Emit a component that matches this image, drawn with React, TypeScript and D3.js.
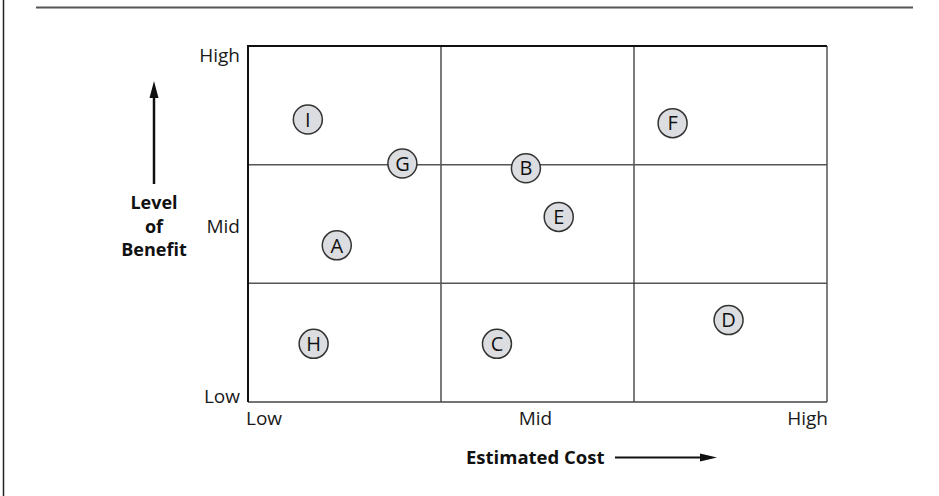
import React, { useEffect, useRef } from 'react';
import * as d3 from 'd3';

// Projects placed on the cost / benefit grid (0 = Low, 1.5 = Mid, 3 = High)
const projectLabels = ['I', 'G', 'B', 'E', 'F', 'A', 'H', 'C', 'D'];
const costValues = [0.31, 0.8, 1.44, 1.61, 2.2, 0.46, 0.34, 1.29, 2.49];
const benefitValues = [2.38, 2.01, 1.97, 1.56, 2.35, 1.32, 0.49, 0.49, 0.69];

const levelTicks = ['Low', 'Mid', 'High'];
const levelTickValues = [0, 1.5, 3];
const gridValues = [1, 2];

const FONT = '"Open Sans", "Noto Sans", sans-serif';

export const CostBenefitGrid: React.FC = () => {
  const svgRef = useRef<SVGSVGElement>(null);

  useEffect(() => {
    if (!svgRef.current) return;

    d3.select(svgRef.current).selectAll('*').remove();

    const width = 939;
    const height = 496;
    const margin = { top: 46, right: 112, bottom: 94, left: 248 };

    const svg = d3.select(svgRef.current);

    const xScale = d3
      .scaleLinear()
      .domain([0, 3])
      .range([margin.left, width - margin.right]);

    const yScale = d3
      .scaleLinear()
      .domain([0, 3])
      .range([height - margin.bottom, margin.top]);

    // Outer frame (top rule and left rule)
    svg
      .append('line')
      .attr('x1', 36)
      .attr('x2', 913)
      .attr('y1', 7.5)
      .attr('y2', 7.5)
      .attr('stroke', '#555')
      .attr('stroke-width', 2);

    svg
      .append('line')
      .attr('x1', 3.5)
      .attr('x2', 3.5)
      .attr('y1', 0)
      .attr('y2', height)
      .attr('stroke', '#222')
      .attr('stroke-width', 1.5);

    // Inner grid lines
    gridValues.forEach((v) => {
      svg
        .append('line')
        .attr('x1', xScale(v))
        .attr('x2', xScale(v))
        .attr('y1', yScale(0))
        .attr('y2', yScale(3))
        .attr('stroke', '#333')
        .attr('stroke-width', 1.3);
      svg
        .append('line')
        .attr('x1', xScale(0))
        .attr('x2', xScale(3))
        .attr('y1', yScale(v))
        .attr('y2', yScale(v))
        .attr('stroke', '#555')
        .attr('stroke-width', 1.5);
    });

    // Plot border: right and bottom lighter, top and left darker
    svg
      .append('line')
      .attr('x1', xScale(3))
      .attr('x2', xScale(3))
      .attr('y1', yScale(0))
      .attr('y2', yScale(3))
      .attr('stroke', '#555')
      .attr('stroke-width', 1.5);
    svg
      .append('line')
      .attr('x1', xScale(0))
      .attr('x2', xScale(3))
      .attr('y1', yScale(0))
      .attr('y2', yScale(0))
      .attr('stroke', '#444')
      .attr('stroke-width', 1.5);
    svg
      .append('path')
      .attr('d', `M${xScale(0)},${yScale(0)}V${yScale(3)}H${xScale(3)}`)
      .attr('fill', 'none')
      .attr('stroke', '#111')
      .attr('stroke-width', 2);

    // Y level labels
    svg
      .selectAll('.y-label')
      .data(levelTicks)
      .enter()
      .append('text')
      .attr('x', xScale(0) - 8)
      .attr('y', (d, i) => yScale(levelTickValues[i]))
      .attr('dy', (d, i) => (i === 0 ? '0.05em' : i === 1 ? '0.45em' : '0.85em'))
      .attr('text-anchor', 'end')
      .attr('fill', '#1a1a1a')
      .attr('font-family', FONT)
      .attr('font-size', '19px')
      .text((d) => d);

    // X level labels
    svg
      .selectAll('.x-label')
      .data(levelTicks)
      .enter()
      .append('text')
      .attr('x', (d, i) => xScale(levelTickValues[i]) + (i === 0 ? -2 : i === 2 ? 1 : -2))
      .attr('y', yScale(0) + 23)
      .attr('text-anchor', (d, i) => (i === 0 ? 'start' : i === 1 ? 'middle' : 'end'))
      .attr('fill', '#1a1a1a')
      .attr('font-family', FONT)
      .attr('font-size', '19px')
      .text((d) => d);

    // Axis titles with arrows
    const benefit = svg
      .append('text')
      .attr('x', 154)
      .attr('y', 209)
      .attr('text-anchor', 'middle')
      .attr('fill', '#111')
      .attr('font-family', FONT)
      .attr('font-size', '18px')
      .attr('font-weight', 700);
    ['Level', 'of', 'Benefit'].forEach((w, i) => {
      benefit
        .append('tspan')
        .attr('x', 154)
        .attr('dy', i === 0 ? 0 : 23.5)
        .text(w);
    });

    svg
      .append('line')
      .attr('x1', 154)
      .attr('x2', 154)
      .attr('y1', 184)
      .attr('y2', 96)
      .attr('stroke', '#111')
      .attr('stroke-width', 2.5);
    svg
      .append('path')
      .attr('d', 'M154,81L149.5,98H158.5Z')
      .attr('fill', '#111');

    svg
      .append('text')
      .attr('x', 466)
      .attr('y', 464)
      .attr('fill', '#111')
      .attr('font-family', FONT)
      .attr('font-size', '18.5px')
      .attr('font-weight', 700)
      .text('Estimated Cost');

    svg
      .append('line')
      .attr('x1', 615)
      .attr('x2', 702)
      .attr('y1', 457.5)
      .attr('y2', 457.5)
      .attr('stroke', '#111')
      .attr('stroke-width', 2);
    svg
      .append('path')
      .attr('d', 'M717,457.5L700,453.5V461.5Z')
      .attr('fill', '#111');

    // Project markers
    const points = projectLabels.map((label, i) => ({
      label,
      cost: costValues[i],
      benefit: benefitValues[i],
    }));

    const markers = svg
      .selectAll('.marker')
      .data(points)
      .enter()
      .append('g')
      .attr('class', 'marker')
      .attr('transform', (d) => `translate(${xScale(d.cost)},${yScale(d.benefit)})`);

    markers
      .append('circle')
      .attr('r', 14.5)
      .attr('fill', '#dcdde0')
      .attr('stroke', '#333')
      .attr('stroke-width', 1.5);

    markers
      .append('text')
      .attr('text-anchor', 'middle')
      .attr('dy', '0.36em')
      .attr('fill', '#111')
      .attr('font-family', FONT)
      .attr('font-size', '20px')
      .text((d) => d.label);
  }, []);

  return (
    <svg
      ref={svgRef}
      width={939}
      height={496}
      style={{ position: 'absolute', left: 0, top: 0, background: '#fff' }}
    />
  );
};

export default function App() {
  return <CostBenefitGrid />;
}
